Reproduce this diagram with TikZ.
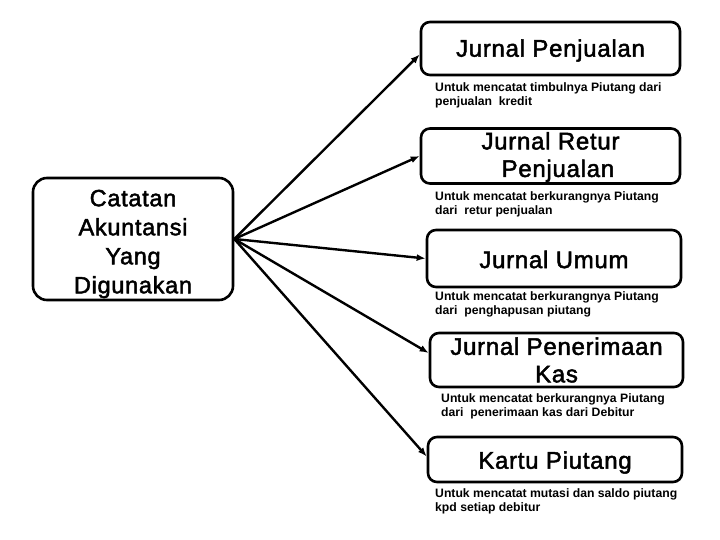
\documentclass[tikz,border=0pt]{standalone}
\usepackage{fontspec}
\setmainfont{Liberation Sans}
\newfontfamily\titlefont[LetterSpace=3,FakeBold=2]{Liberation Sans}
\usetikzlibrary{arrows.meta}

\begin{document}
\begin{tikzpicture}[x=1pt,y=-1pt,
   jbox/.style={draw,line width=2.6pt,rounded corners=9pt,inner sep=0pt},
   jtext/.style={align=center,inner sep=0pt,font=\titlefont\fontsize{24}{27.5}\selectfont},
   note/.style={anchor=north west,align=left,inner sep=0pt,
                font=\fontsize{12.2}{14}\selectfont\bfseries},
   arr/.style={-{Latex[length=9pt,width=7pt]},line width=2.4pt}]
  \useasboundingbox (0,0) rectangle (720,540);
  % kotak
  \node[jbox,minimum width=200pt,minimum height=122pt,rounded corners=14pt] (cat) at (133,239) {};
  \node[jbox,minimum width=259pt,minimum height=53pt] (jp)  at (550.5,48.5) {};
  \node[jbox,minimum width=259pt,minimum height=55pt] (jrp) at (550.5,156) {};
  \node[jbox,minimum width=254pt,minimum height=57pt] (ju)  at (554,258.5) {};
  \node[jbox,minimum width=253pt,minimum height=54pt] (jpk) at (556.5,360) {};
  \node[jbox,minimum width=254pt,minimum height=45pt] (kp)  at (555,459.5) {};
  % judul
  \node[jtext,font=\titlefont\fontsize{23.5}{29}\selectfont] (catt) at ([yshift=-5pt]cat.center)
        {Catatan\\Akuntansi\\Yang\\Digunakan};
  \node[jtext] (jpt)  at ([yshift=-2pt]jp.center)  {Jurnal Penjualan};
  \node[jtext] (jrpt) at ([yshift=-1pt]jrp.center) {Jurnal Retur\\\ \ Penjualan};
  \node[jtext] (jut)  at ([yshift=-1pt]ju.center)  {Jurnal Umum};
  \node[jtext] (jpkt) at ([yshift=0pt]jpk.center)  {Jurnal Penerimaan\\Kas};
  \node[jtext] (kpt)  at ([yshift=-3pt]kp.center)  {Kartu Piutang};
  % keterangan
  \node[note] (njp)  at (435,82)  {Untuk mencatat timbulnya Piutang dari\\penjualan\ \ kredit};
  \node[note] (njrp) at (435,191) {Untuk mencatat berkurangnya Piutang\\dari\ \ retur penjualan};
  \node[note] (nju)  at (435,291) {Untuk mencatat berkurangnya Piutang\\dari\ \ penghapusan piutang};
  \node[note] (njpk) at (441,393) {Untuk mencatat berkurangnya Piutang\\dari\ \ penerimaan kas dari Debitur};
  \node[note] (nkp)  at (435,488) {Untuk mencatat mutasi dan saldo piutang\\kpd setiap debitur};
  % panah
  \draw[arr] (cat.east) -- ([yshift=-6pt]jp.west);
  \draw[arr] (cat.east) -- (jrp.west);
  \draw[arr] (cat.east) -- (ju.west);
  \draw[arr] (cat.east) -- ([yshift=7pt]jpk.west);
  \draw[arr] (cat.east) -- ([yshift=3pt]kp.west);
\end{tikzpicture}
\end{document}
